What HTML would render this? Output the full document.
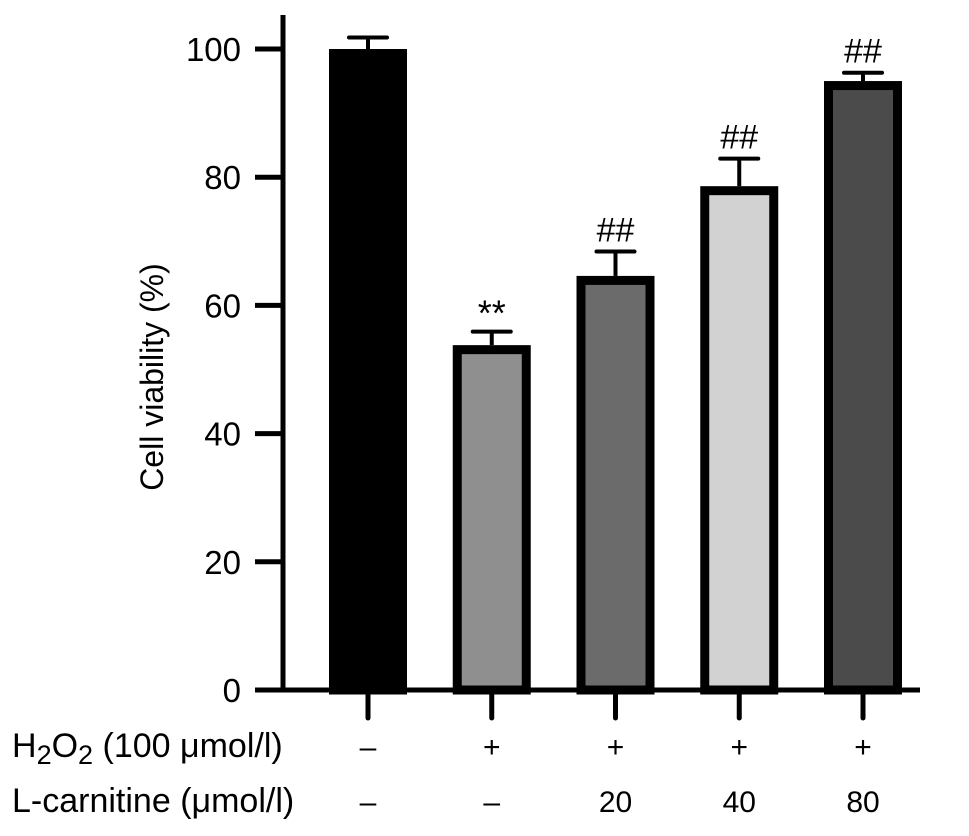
<!DOCTYPE html>
<html><head><meta charset="utf-8"><style>
body{margin:0;background:#fff;}
svg{display:block;font-family:"Liberation Sans",Arial,sans-serif;}
</style></head><body>
<svg id="chart" width="969" height="836" viewBox="0 0 969 836"></svg>
<script>
const categories = ["Control","H2O2","H2O2+LC20","H2O2+LC40","H2O2+LC80"];
const values = [100, 53.8, 64.6, 78.6, 95];
const errors = [1.8, 2.1, 3.8, 4.3, 1.3];
const sigLabels = ["", "**", "##", "##", "##"];
const fills = ["#000000","#8f8f8f","#6b6b6b","#d2d2d2","#4b4b4b"];
const yTicks = [0,20,40,60,80,100];
const h2o2Row = ["\u2013","+","+","+","+"];
const lcRow = ["\u2013","\u2013","20","40","80"];

const NS="http://www.w3.org/2000/svg";
const svg=document.getElementById('chart');
function el(t,a,txt){const e=document.createElementNS(NS,t);for(const k in a)e.setAttribute(k,a[k]);if(txt!==undefined)e.textContent=txt;svg.appendChild(e);return e;}
const y0=690, yTop=49;
function yScale(v){return y0-(v/100)*(y0-yTop);}
const x0=368, step=123.75, bw=78;
function xScale(i){return x0+i*step;}

categories.forEach((c,i)=>{
  const cx=xScale(i), top=yScale(values[i]);
  const r=el('rect',{x:cx-bw/2+4.5,y:top+4.5,width:bw-9,height:y0-top-4.5,fill:fills[i],stroke:'#000','stroke-width':9});
  
  
  const et=yScale(values[i]+errors[i]);
  const l=el('line',{x1:cx,x2:cx,y1:top,y2:et,stroke:'#000','stroke-width':4});
  
  
  const cap=el('line',{x1:cx-19,x2:cx+19,y1:et,y2:et,stroke:'#000','stroke-width':4,'stroke-linecap':'round'});
  
  
  if(sigLabels[i]){
    const s=el('text',{x:cx,y:sigLabels[i]==='**'?et-6:et-10,'text-anchor':'middle','font-size':sigLabels[i]==='**'?36:34},sigLabels[i]);
    
    
  }
  const tk=el('line',{x1:cx,x2:cx,y1:y0,y2:718,stroke:'#000','stroke-width':5,'stroke-linecap':'round'});
  
  
  const a=el('text',{x:cx,y:757,'text-anchor':'middle','font-size':30},h2o2Row[i]);
  
  
  const b=el('text',{x:cx,y:812,'text-anchor':'middle','font-size':30},lcRow[i]);
  
  
});

const ya=el('line',{x1:283,x2:283,y1:15,y2:692,stroke:'#000','stroke-width':5});


const xa=el('line',{x1:255,x2:920,y1:y0,y2:y0,stroke:'#000','stroke-width':5});


yTicks.forEach(v=>{
  const y=yScale(v);
  const t=el('line',{x1:255,x2:283,y1:y,y2:y,stroke:'#000','stroke-width':5});
  
  
  const lb=el('text',{x:241,y:y+12,'text-anchor':'end','font-size':33},String(v));
  
  
});
const yt=el('text',{x:0,y:0,'text-anchor':'middle','font-size':32,transform:'translate(163,377) rotate(-90)'},'Cell viability (%)');



const r1=el('text',{x:12,y:757,'font-size':34});
r1.innerHTML='H<tspan dy="7" font-size="27">2</tspan><tspan dy="-7">O</tspan><tspan dy="7" font-size="27">2</tspan><tspan dy="-7"> (100 \u03bcmol/l)</tspan>';


const r2=el('text',{x:12,y:812,'font-size':34},'L-carnitine (\u03bcmol/l)');


</script>
</body></html>
